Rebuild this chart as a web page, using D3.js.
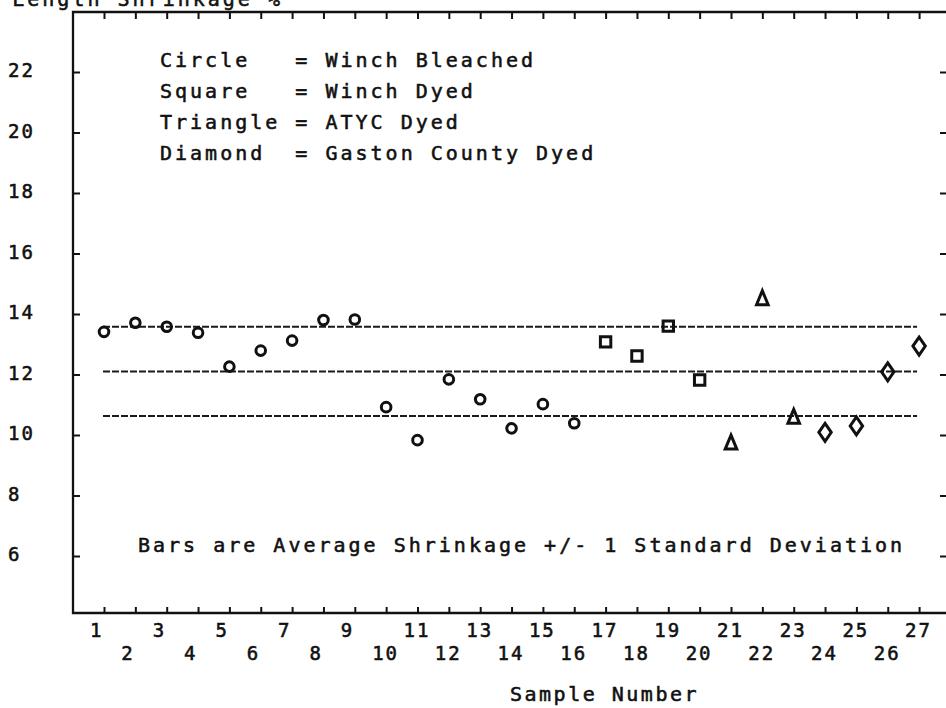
<!DOCTYPE html>
<html>
<head>
<meta charset="utf-8">
<script src="https://cdn.jsdelivr.net/npm/d3@7"></script>
<style>
  html, body { margin: 0; padding: 0; background: #fff; }
  svg { display: block; }
  text { font-family: "DejaVu Sans Mono", "Liberation Mono", monospace; fill: #111; stroke: #111; stroke-width: 0.55; }
</style>
</head>
<body>
<svg id="chart" width="946" height="708"></svg>
<script>
// ---- data ----
const sampleNumbers = [1,2,3,4,5,6,7,8,9,10,11,12,13,14,15,16,17,18,19,20,21,22,23,24,25,26,27];
const shrinkage = [13.41,13.71,13.58,13.38,12.26,12.79,13.12,13.80,13.82,10.92,9.83,11.84,11.18,10.22,11.02,10.39,
                   13.08,12.61,13.60,11.82,9.75,14.52,10.60,10.09,10.30,12.09,12.94];
const markerTypes = ["circle","circle","circle","circle","circle","circle","circle","circle","circle","circle",
                     "circle","circle","circle","circle","circle","circle",
                     "square","square","square","square",
                     "triangle","triangle","triangle",
                     "diamond","diamond","diamond","diamond"];
const refLines = [13.58, 12.10, 10.63];          // mean + 1 SD, mean, mean - 1 SD
const yTickValues = [6,8,10,12,14,16,18,20,22];
const xTickValues = [1,2,3,4,5,6,7,8,9,10,11,12,13,14,15,16,17,18,19,20,21,22,23,24,25,26,27];
const legendLines = ["Circle   = Winch Bleached",
                     "Square   = Winch Dyed",
                     "Triangle = ATYC Dyed",
                     "Diamond  = Gaston County Dyed"];
const noteText = "Bars are Average Shrinkage +/- 1 Standard Deviation";
const xTitle = "Sample Number";
const yTitle = "Length Shrinkage %";

// ---- layout ----
const svg = d3.select("#chart");
const frameL = 73, frameR = 950, frameT = 12, frameB = 613;
const x = d3.scaleLinear().domain([0, 28]).range([72.65, 950.45]);
const y = d3.scaleLinear().domain([6, 22]).range([556, 72]);
const fs = 20, letter = 3;

// frame
svg.append("path")
  .attr("d", `M${frameL},${frameT}H${frameR}V${frameB}H${frameL}Z`)
  .attr("fill", "none").attr("stroke", "#111").attr("stroke-width", 2.3);

// y ticks (left and right, pointing inward)
const yAxisL = d3.axisRight(y).tickValues(yTickValues).tickSize(7).tickFormat("");
const gL = svg.append("g").attr("transform", `translate(${frameL},0)`).call(yAxisL);
gL.select(".domain").remove();
gL.selectAll("line").attr("stroke", "#111").attr("stroke-width", 2);

const yAxisR = d3.axisLeft(y).tickValues(yTickValues).tickSize(7).tickFormat("");
const gR = svg.append("g").attr("transform", `translate(${frameR - 3},0)`).call(yAxisR);
gR.select(".domain").remove();
gR.selectAll("line").attr("stroke", "#111").attr("stroke-width", 2);

// y tick labels (left aligned)
svg.append("g").selectAll("text").data(yTickValues).join("text")
  .attr("x", 8).attr("y", d => y(d) + 5)
  .attr("font-size", 19).attr("letter-spacing", 2)
  .text(d => d);

// x ticks bottom (up) and top (down)
const xAxisB = d3.axisTop(x).tickValues(xTickValues).tickSize(6).tickFormat("");
const gB = svg.append("g").attr("transform", `translate(0,${frameB})`).call(xAxisB);
gB.select(".domain").remove();
gB.selectAll("line").attr("stroke", "#111").attr("stroke-width", 2);

const xAxisT = d3.axisBottom(x).tickValues(xTickValues).tickSize(7).tickFormat("");
const gT = svg.append("g").attr("transform", `translate(0,${frameT})`).call(xAxisT);
gT.select(".domain").remove();
gT.selectAll("line").attr("stroke", "#111").attr("stroke-width", 2);

// x tick labels: odd row and even row, left aligned
svg.append("g").selectAll("text").data(xTickValues).join("text")
  .attr("x", d => x(d) - 14)
  .attr("y", d => d % 2 === 1 ? 637 : 660)
  .attr("font-size", 19).attr("letter-spacing", 2)
  .text(d => d);

// axis titles
svg.append("text").attr("x", 510).attr("y", 701)
  .attr("font-size", fs).attr("letter-spacing", letter - 0.5).text(xTitle);
svg.append("text").attr("x", 283).attr("y", 6).attr("text-anchor", "end")
  .attr("font-size", fs).attr("letter-spacing", letter).text(yTitle);

// legend
svg.append("g").selectAll("text").data(legendLines).join("text")
  .attr("x", 160).attr("y", (d, i) => 67 + i * 31)
  .attr("font-size", fs).attr("letter-spacing", letter)
  .attr("xml:space", "preserve").style("white-space", "pre")
  .text(d => d);

// note
svg.append("text").attr("x", 138).attr("y", 552)
  .attr("font-size", fs).attr("letter-spacing", letter)
  .text(noteText);

// reference lines
svg.append("g").selectAll("line").data(refLines).join("line")
  .attr("x1", x(sampleNumbers[0]) - 1).attr("x2", x(sampleNumbers[sampleNumbers.length - 1]) - 2)
  .attr("y1", d => y(d)).attr("y2", d => y(d))
  .attr("stroke", "#1a1a1a").attr("stroke-width", 2)
  .attr("stroke-dasharray", "7,2");

// markers
function markerPath(type, cx, cy) {
  const p = d3.path();
  if (type === "circle") {
    p.moveTo(cx + 4.8, cy); p.arc(cx, cy, 4.8, 0, 2 * Math.PI);
  } else if (type === "square") {
    p.rect(cx - 5.2, cy - 5.2, 10.4, 10.4);
  } else if (type === "triangle") {
    p.moveTo(cx, cy - 7.5); p.lineTo(cx + 5.8, cy + 6.5); p.lineTo(cx - 5.8, cy + 6.5); p.closePath();
  } else {
    p.moveTo(cx, cy - 9); p.lineTo(cx + 6.2, cy); p.lineTo(cx, cy + 9); p.lineTo(cx - 6.2, cy); p.closePath();
  }
  return p.toString();
}
svg.append("g").selectAll("path").data(sampleNumbers).join("path")
  .attr("d", (d, i) => markerPath(markerTypes[i], x(d), y(shrinkage[i])))
  .attr("fill", "none").attr("stroke", "#111").attr("stroke-width", 3)
  .attr("stroke-linejoin", "miter");
</script>
</body>
</html>
